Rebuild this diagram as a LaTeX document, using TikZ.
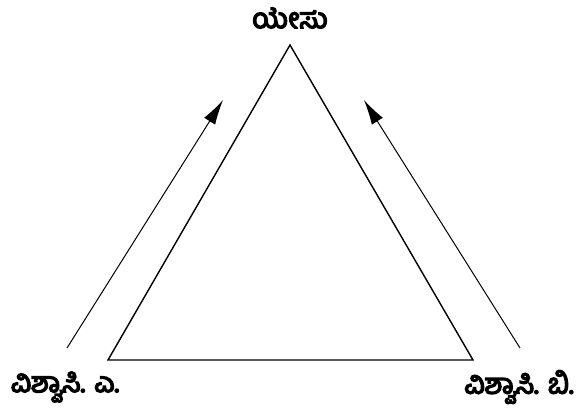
\documentclass[tikz,border=0pt]{standalone}
\usepackage{fontspec}
\usepackage{tikz}
\usetikzlibrary{arrows.meta}
\newfontfamily\kannada[Script=Kannada, AutoFakeBold=5]{Hind Mysuru}

\begin{document}
\begin{tikzpicture}[x=1pt, y=-1pt, >={Latex[length=25pt,width=13pt]},
    label/.style={font=\kannada\bfseries\fontsize{28}{32}\selectfont, inner sep=0pt}]
  \useasboundingbox (0,0) rectangle (579,420);
  % triangle
  \coordinate (apex) at (290,45);
  \coordinate (bl) at (108,360);
  \coordinate (br) at (473,360);
  \draw[line width=1.4pt, line join=miter] (apex) -- (bl) -- (br) -- cycle;
  % names
  \node[label] (jesus) at (290,18) {ಯೇಸು};
  \node[label] (believerA) at (65,387) {ವಿಶ್ವಾಸಿ. ಎ.};
  \node[label] (believerB) at (519,387) {ವಿಶ್ವಾಸಿ. ಬಿ.};
  % arrows
  \coordinate (a0) at (67,348);
  \coordinate (a1) at (223,100);
  \coordinate (b0) at (520,348);
  \coordinate (b1) at (364,100);
  \draw[->, line width=1pt] (a0) -- (a1);
  \draw[->, line width=1pt] (b0) -- (b1);
\end{tikzpicture}
\end{document}
